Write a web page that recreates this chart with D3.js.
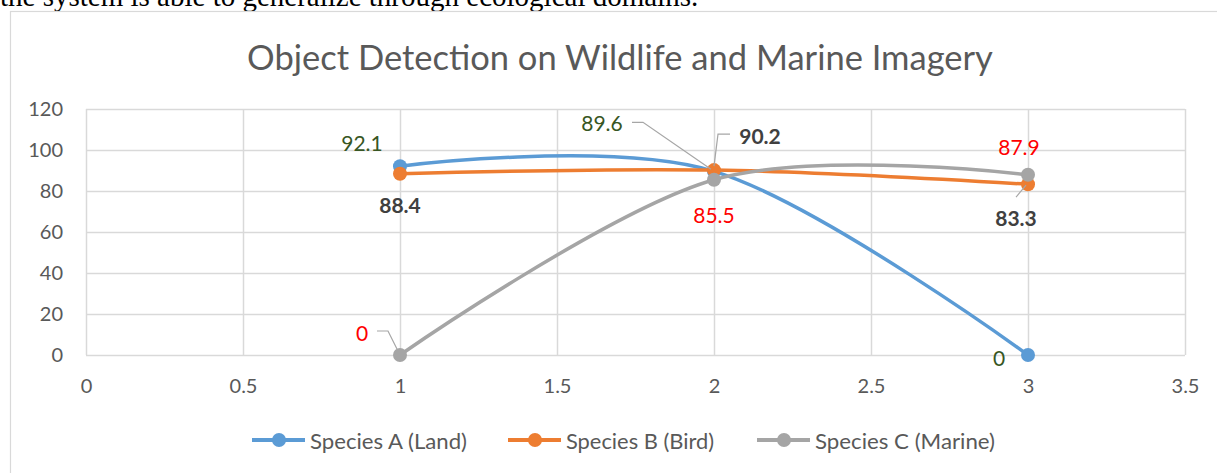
<!DOCTYPE html>
<html>
<head>
<meta charset="utf-8">
<script src="https://cdn.jsdelivr.net/npm/d3@7"></script>
<style>
  body { margin: 0; background: #fff; overflow: hidden; }
  svg { display: block; }
</style>
</head>
<body>
<div id="chart"></div>
<script>
// data
const xValues = [1, 2, 3];
const speciesA = [92.1, 89.6, 0];
const speciesB = [88.4, 90.2, 83.3];
const speciesC = [0, 85.5, 87.9];
const seriesNames = ["Species A (Land)", "Species B (Bird)", "Species C (Marine)"];
const xTicks = [0, 0.5, 1, 1.5, 2, 2.5, 3, 3.5];
const yTicks = [0, 20, 40, 60, 80, 100, 120];
const chartTitle = "Object Detection on Wildlife and Marine Imagery";
const pageText = "the system is able to generalize through ecological domains.";

const W = 1217, H = 473;
const margin = { top: 109, right: 32, bottom: 118, left: 86 };
const width = W - margin.left - margin.right,
      height = H - margin.top - margin.bottom;

const colors = ["#5B9BD5", "#ED7D31", "#A5A5A5"];
const font = "Lato, 'Open Sans', sans-serif";

// label styling per series and label offsets (px, relative to the point)
const labelStyle = [
  { fill: "#375623", weight: "normal" },
  { fill: "#404040", weight: "bold" },
  { fill: "#FF0000", weight: "normal" }
];
const labelPlacement = [
  [{ dx: -38, dy: -24 }, { dx: -112, dy: -49, leader: [[-82, -49], [-71, -49], [-3, -2]] }, { dx: -29, dy: 2 }],
  [{ dx: 0, dy: 31 }, { dx: 46, dy: -35, leader: [[16, -36], [4, -36], [0, -4]] }, { dx: -12, dy: 33, leader: [[-12, 13], [-2, 1]] }],
  [{ dx: -38, dy: -23, leader: [[-23, -24], [-12, -24], [-3, -6]] }, { dx: 0, dy: 35 }, { dx: -9, dy: -28 }]
];

const series = [speciesA, speciesB, speciesC].map((vals, i) => ({
  name: seriesNames[i],
  color: colors[i],
  points: xValues.map((x, j) => ({ x: x, y: vals[j] }))
}));

const x = d3.scaleLinear().domain([0, 3.5]).range([0, width]);
const y = d3.scaleLinear().domain([0, 120]).range([height, 0]);

const svg = d3.select("#chart").append("svg")
    .attr("width", W)
    .attr("height", H);

svg.append("rect").attr("width", W).attr("height", H).attr("fill", "#fff");

// text of the page behind the chart, cut off at the top
svg.append("text")
    .attr("x", 0)
    .attr("y", 6)
    .attr("font-family", "'Liberation Serif', 'DejaVu Serif', serif")
    .attr("font-size", 29)
    .attr("fill", "#000")
    .text(pageText);

// chart frame
svg.append("rect")
    .attr("x", 10.5)
    .attr("y", 11.5)
    .attr("width", W + 20)
    .attr("height", H + 20)
    .attr("fill", "#fff")
    .attr("stroke", "#d9d9d9")
    .attr("stroke-width", 1.2);

svg.append("text")
    .attr("x", 620)
    .attr("y", 70)
    .attr("text-anchor", "middle")
    .attr("font-family", font)
    .attr("font-size", 34.5)
    .attr("fill", "#595959")
    .text(chartTitle);

const g = svg.append("g")
    .attr("transform", "translate(" + margin.left + "," + margin.top + ")");

// grid
g.append("g")
    .selectAll("line")
    .data(yTicks)
    .join("line")
    .attr("x1", 0)
    .attr("x2", width)
    .attr("y1", d => Math.round(y(d)) + 0.5)
    .attr("y2", d => Math.round(y(d)) + 0.5)
    .attr("stroke", "#d9d9d9")
    .attr("stroke-width", 1.5);

g.append("g")
    .selectAll("line")
    .data(xTicks)
    .join("line")
    .attr("x1", d => Math.round(x(d)) + 0.5)
    .attr("x2", d => Math.round(x(d)) + 0.5)
    .attr("y1", 0)
    .attr("y2", height)
    .attr("stroke", "#d9d9d9")
    .attr("stroke-width", 1.5);

// axes (labels only)
const yAxis = g.append("g")
    .call(d3.axisLeft(y).tickValues(yTicks).tickSize(0).tickPadding(23));
const xAxis = g.append("g")
    .attr("transform", "translate(0," + height + ")")
    .call(d3.axisBottom(x).tickValues(xTicks).tickSize(0).tickPadding(24)
        .tickFormat(d3.format("")));
[yAxis, xAxis].forEach(a => {
  a.select(".domain").remove();
  a.selectAll("text")
      .attr("font-family", font)
      .attr("font-size", 20)
      .attr("fill", "#595959");
});

// smoothed lines
const line = d3.line()
    .x(d => x(d.x))
    .y(d => y(d.y))
    .curve(d3.curveCardinal.tension(0));

const sg = g.selectAll(".series")
    .data(series)
    .join("g")
    .attr("class", "series");

sg.append("path")
    .attr("d", d => line(d.points))
    .attr("fill", "none")
    .attr("stroke", d => d.color)
    .attr("stroke-width", 3.5)
    .attr("stroke-linecap", "round");

sg.selectAll("circle")
    .data(d => d.points.map(p => ({ p: p, color: d.color })))
    .join("circle")
    .attr("cx", d => x(d.p.x))
    .attr("cy", d => y(d.p.y))
    .attr("r", 7)
    .attr("fill", d => d.color);

// data labels with leader lines
series.forEach((s, i) => {
  s.points.forEach((p, j) => {
    const pl = labelPlacement[i][j];
    const px = x(p.x), py = y(p.y);
    if (pl.leader) {
      g.append("polyline")
          .attr("points", pl.leader.map(o => (px + o[0]) + "," + (py + o[1])).join(" "))
          .attr("fill", "none")
          .attr("stroke", "#a6a6a6")
          .attr("stroke-width", 1.2);
    }
    g.append("text")
        .attr("x", px + pl.dx)
        .attr("y", py + pl.dy)
        .attr("text-anchor", "middle")
        .attr("dominant-baseline", "central")
        .attr("font-family", font)
        .attr("font-size", 21)
        .attr("font-weight", labelStyle[i].weight)
        .attr("fill", labelStyle[i].fill)
        .text(d3.format("")(p.y));
  });
});

// legend
const legendX = [252, 508, 757];
const legendTextWidth = [157, 148, 180];
const legend = svg.append("g")
    .attr("transform", "translate(0,440)");
const li = legend.selectAll("g")
    .data(series)
    .join("g")
    .attr("transform", (d, i) => "translate(" + legendX[i] + ",0)");
li.append("line")
    .attr("x1", 0).attr("x2", 53)
    .attr("stroke", d => d.color)
    .attr("stroke-width", 4);
li.append("circle")
    .attr("cx", 27)
    .attr("r", 7)
    .attr("fill", d => d.color);
li.append("text")
    .attr("x", 58)
    .attr("dominant-baseline", "central")
    .attr("font-family", font)
    .attr("font-size", 21)
    .attr("textLength", (d, i) => legendTextWidth[i])
    .attr("lengthAdjust", "spacingAndGlyphs")
    .attr("fill", "#595959")
    .text(d => d.name);
</script>
</body>
</html>
